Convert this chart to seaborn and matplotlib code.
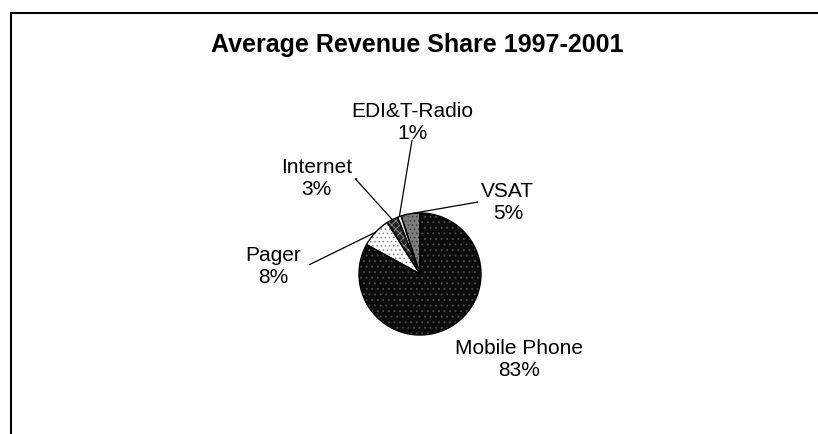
import matplotlib
matplotlib.use("Agg")
import matplotlib.pyplot as plt
from matplotlib.lines import Line2D
import numpy as np
import seaborn as sns

# Revenue share by service, 1997-2001 (percent)
services = ["Mobile Phone", "Pager", "Internet", "EDI&T-Radio", "VSAT"]
shares = [83, 8, 3, 1, 5]
title = "Average Revenue Share 1997-2001"

sns.set_theme(style="white")
plt.rcParams["font.family"] = ["Liberation Sans", "DejaVu Sans"]
plt.rcParams["hatch.linewidth"] = 0.6

W, H, DPI = 818, 434, 100
fig = plt.figure(figsize=(W / DPI, H / DPI), dpi=DPI)
fig.patch.set_facecolor("white")

# pie geometry in pixels: centre and radius
cx, cy, R = 420, 274, 61
ax = fig.add_axes([0, 0, 1, 1])

faces = ["#0b0b0b", "#ffffff", "#262626", "#f4f4f4", "#7c7c7c"]
hatch_cols = ["#505050", "#8c8c8c", "#8a8a8a", "#b8b8b8", "#3c3c3c"]
hatches = ["...", "....", "xxxx", "...", "...."]

# base fill
wedges, _ = ax.pie(shares, startangle=90, counterclock=False, colors=faces,
                   wedgeprops=dict(linewidth=0))
# pattern overlay
over, _ = ax.pie(shares, startangle=90, counterclock=False,
                 colors=["none"] * len(shares),
                 wedgeprops=dict(linewidth=0))
for w, hc, h in zip(over, hatch_cols, hatches):
    w.set_facecolor("none")
    w.set_edgecolor(hc)
    w.set_hatch(h)
# outlines
outl, _ = ax.pie(shares, startangle=90, counterclock=False,
                 colors=["none"] * len(shares),
                 wedgeprops=dict(linewidth=1.0, edgecolor="black", facecolor="none"))

ax.set_aspect("equal")
ax.set_xlim(-cx / R, (W - cx) / R)
ax.set_ylim(-(H - cy) / R, cy / R)
ax.axis("off")

# label placement (pie units) and leader line end points near each label
label_pos = {
    "Mobile Phone": (1.62, -1.40),
    "Pager": (-2.41, 0.13),
    "Internet": (-1.70, 1.57),
    "EDI&T-Radio": (-0.13, 2.49),
    "VSAT": (1.44, 1.18),
}
leader_end = {
    "Pager": [(-1.82, 0.15)],
    "Internet": [(-1.06, 1.56), (-1.03, 1.56)],
    "EDI&T-Radio": [(-0.13, 2.20)],
    "VSAT": [(0.95, 1.18)],
}

for w, name, val in zip(wedges, services, shares):
    mid = np.deg2rad((w.theta1 + w.theta2) / 2)
    x0, y0 = np.cos(mid), np.sin(mid)
    lx, ly = label_pos[name]
    ax.text(lx, ly, f"{name}\n{val}%", ha="center", va="center",
            fontsize=15, color="black", linespacing=1.2)
    if name in leader_end:
        pts = leader_end[name][::-1] + [(x0, y0)]
        xs, ys = zip(*pts)
        ax.plot(xs, ys, color="black", linewidth=0.9, solid_capstyle="butt")

fig.text(417 / W, 1 - 52 / H, title, ha="center", va="baseline",
         fontsize=18, fontweight="bold", color="black")

# chart frame (left and top edges)
fx, fy = 11 / W, 1 - 13 / H
fig.add_artist(Line2D([fx, fx], [0, fy], transform=fig.transFigure,
                      color="black", linewidth=1.5))
fig.add_artist(Line2D([fx, 1], [fy, fy], transform=fig.transFigure,
                      color="black", linewidth=1.5))

fig.savefig("out.png", dpi=DPI, facecolor="white")
